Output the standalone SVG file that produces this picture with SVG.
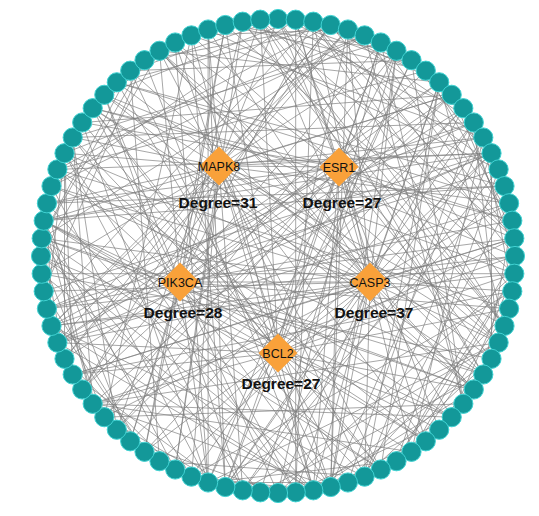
<svg xmlns="http://www.w3.org/2000/svg" width="539" height="516" viewBox="0 0 539 516">
<style>
.e{fill:none;stroke:#7c7c7c;stroke-width:0.75;stroke-opacity:0.9}
.ring circle{fill:#139899;stroke:#40d2d2;stroke-width:1}
.hub polygon{fill:#f9a13a}
.hl{font-family:"Liberation Sans",Arial,sans-serif;font-size:12.5px;fill:#111;text-anchor:middle}
.dl{font-family:"Liberation Sans",Arial,sans-serif;font-size:15.5px;font-weight:bold;fill:#111;text-anchor:middle}
</style>
<rect width="539" height="516" fill="#fff"/>
<g id="edges">
<path class="e" d="M278 19L483.3 137.5M295.7 19.7L498.6 169.4M313.3 21.7L439.2 82.3M330.7 25L57.4 169.4M347.9 29.5L330.7 487M364.6 35.4L439.2 82.3M380.8 42.5L295.7 19.7M396.5 50.8L330.7 487M411.5 60.2L208.1 482.5M425.8 70.7L82.2 389.5M439.2 82.3L380.8 469.5M451.7 94.8L92.7 403.8M463.3 108.2L144.5 451.8M473.8 122.5L225.3 487M483.3 137.5L425.8 70.7M491.5 153.2L43.7 220.7M498.6 169.4L242.7 490.3M509.1 203.3L364.6 476.6M512.3 220.7L380.8 42.5M514.3 238.3L364.6 35.4M515 256L46.9 308.7M514.3 273.7L451.7 417.2M512.3 291.3L483.3 137.5M509.1 308.7L411.5 451.8M504.5 325.9L260.3 19.7M498.6 342.6L208.1 482.5M491.5 358.8L313.3 490.3M483.3 374.5L159.5 50.8M473.8 389.5L104.3 94.8M463.3 403.8L364.6 35.4M451.7 417.2L92.7 403.8M439.2 429.7L330.7 487M411.5 451.8L483.3 137.5M396.5 461.2L295.7 492.3M380.8 469.5L41.7 238.3M364.6 476.6L491.5 153.2M347.9 482.5L208.1 482.5M330.7 487L92.7 403.8M295.7 492.3L64.5 153.2M260.3 492.3L396.5 50.8M242.7 490.3L64.5 153.2M225.3 487L191.4 35.4M208.1 482.5L51.5 186.1M191.4 476.6L41.7 238.3M175.2 469.5L92.7 403.8M159.5 461.2L242.7 490.3M130.2 441.3L43.7 220.7M116.8 429.7L175.2 469.5M92.7 403.8L515 256M82.2 389.5L330.7 25M64.5 358.8L330.7 25M57.4 342.6L313.3 490.3M51.5 325.9L514.3 273.7M46.9 308.7L64.5 153.2M43.7 291.3L491.5 153.2M41.7 273.7L514.3 273.7M41 256L330.7 487M41.7 238.3L130.2 70.7M43.7 220.7L451.7 417.2M46.9 203.3L313.3 490.3M51.5 186.1L364.6 35.4M57.4 169.4L491.5 153.2M64.5 153.2L64.5 358.8M72.7 137.5L330.7 487M82.2 122.5L208.1 482.5M92.7 108.2L483.3 374.5M116.8 82.3L509.1 203.3M130.2 70.7L330.7 487M144.5 60.2L330.7 25M159.5 50.8L439.2 82.3M175.2 42.5L330.7 487M225.3 25L396.5 50.8M242.7 21.7L504.5 325.9"/>
<path class="e" d="M278 19L425.8 70.7M313.3 21.7L512.3 291.3M330.7 25L473.8 122.5M347.9 29.5L51.5 325.9M364.6 35.4L41.7 238.3M380.8 42.5L72.7 137.5M396.5 50.8L104.3 417.2M411.5 60.2L463.3 403.8M425.8 70.7L512.3 220.7M439.2 82.3L491.5 153.2M451.7 94.8L43.7 220.7M463.3 108.2L515 256M491.5 153.2L491.5 358.8M498.6 169.4L46.9 308.7M504.5 186.1L225.3 487M512.3 220.7L483.3 374.5M514.3 238.3L451.7 94.8M515 256L330.7 25M514.3 273.7L225.3 25M512.3 291.3L72.7 374.5M509.1 308.7L57.4 169.4M504.5 325.9L313.3 21.7M498.6 342.6L92.7 403.8M491.5 358.8L116.8 82.3M483.3 374.5L278 19M473.8 389.5L159.5 50.8M463.3 403.8L104.3 417.2M451.7 417.2L57.4 169.4M425.8 441.3L491.5 358.8M411.5 451.8L43.7 220.7M396.5 461.2L498.6 169.4M380.8 469.5L41 256M364.6 476.6L159.5 461.2M330.7 487L225.3 487M313.3 490.3L191.4 476.6M295.7 492.3L313.3 21.7M278 493L514.3 273.7M242.7 490.3L498.6 342.6M225.3 487L104.3 417.2M208.1 482.5L208.1 29.5M191.4 476.6L512.3 291.3M175.2 469.5L242.7 21.7M144.5 451.8L46.9 308.7M130.2 441.3L463.3 108.2M116.8 429.7L451.7 94.8M104.3 417.2L191.4 35.4M92.7 403.8L411.5 451.8M72.7 374.5L64.5 153.2M64.5 358.8L463.3 108.2M57.4 342.6L439.2 82.3M51.5 325.9L46.9 203.3M46.9 308.7L313.3 21.7M41.7 273.7L491.5 358.8M41 256L159.5 50.8M41.7 238.3L144.5 60.2M43.7 220.7L92.7 403.8M46.9 203.3L92.7 403.8M51.5 186.1L483.3 374.5M72.7 137.5L116.8 429.7M82.2 122.5L159.5 50.8M92.7 108.2L512.3 220.7M104.3 94.8L242.7 490.3M116.8 82.3L175.2 42.5M130.2 70.7L411.5 60.2M144.5 60.2L313.3 490.3M175.2 42.5L208.1 482.5M191.4 35.4L347.9 29.5M208.1 29.5L498.6 169.4M225.3 25L425.8 70.7M242.7 21.7L498.6 342.6M260.3 19.7L483.3 374.5"/>
<path class="e" d="M278 19L504.5 325.9M295.7 19.7L295.7 492.3M313.3 21.7L425.8 70.7M330.7 25L116.8 82.3M347.9 29.5L64.5 358.8M364.6 35.4L64.5 153.2M380.8 42.5L278 493M396.5 50.8L295.7 19.7M411.5 60.2L498.6 169.4M425.8 70.7L57.4 169.4M451.7 94.8L82.2 122.5M473.8 122.5L498.6 342.6M483.3 137.5L242.7 490.3M491.5 153.2L57.4 342.6M498.6 169.4L515 256M504.5 186.1L43.7 220.7M512.3 220.7L512.3 291.3M514.3 238.3L313.3 21.7M515 256L104.3 94.8M514.3 273.7L396.5 461.2M509.1 308.7L347.9 482.5M504.5 325.9L439.2 82.3M498.6 342.6L159.5 50.8M491.5 358.8L364.6 476.6M483.3 374.5L260.3 492.3M473.8 389.5L313.3 490.3M463.3 403.8L380.8 42.5M451.7 417.2L295.7 492.3M439.2 429.7L43.7 220.7M425.8 441.3L347.9 482.5M411.5 451.8L514.3 273.7M396.5 461.2L515 256M380.8 469.5L92.7 108.2M364.6 476.6L439.2 82.3M347.9 482.5L473.8 122.5M330.7 487L483.3 137.5M313.3 490.3L51.5 325.9M295.7 492.3L439.2 82.3M278 493L130.2 441.3M260.3 492.3L41.7 238.3M225.3 487L72.7 374.5M208.1 482.5L396.5 461.2M175.2 469.5L64.5 358.8M159.5 461.2L130.2 70.7M144.5 451.8L43.7 291.3M130.2 441.3L208.1 482.5M116.8 429.7L260.3 19.7M104.3 417.2L57.4 342.6M92.7 403.8L72.7 137.5M72.7 374.5L514.3 238.3M64.5 358.8L41.7 238.3M57.4 342.6L509.1 203.3M51.5 325.9L364.6 476.6M46.9 308.7L473.8 122.5M43.7 291.3L144.5 60.2M41.7 273.7L313.3 490.3M41 256L104.3 417.2M41.7 238.3L473.8 389.5M43.7 220.7L175.2 469.5M46.9 203.3L504.5 186.1M51.5 186.1L295.7 19.7M64.5 153.2L425.8 441.3M72.7 137.5L473.8 122.5M82.2 122.5L380.8 469.5M92.7 108.2L159.5 50.8M104.3 94.8L295.7 19.7M116.8 82.3L504.5 186.1M130.2 70.7L278 19M191.4 35.4L483.3 137.5M208.1 29.5L225.3 487M225.3 25L144.5 451.8M242.7 21.7L463.3 108.2M260.3 19.7L514.3 238.3"/>
<path id="e-MAPK8" class="e" d="M219 166L330.7 25M219 166L483.3 137.5M219 166L504.5 325.9M219 166L380.8 469.5M219 166L191.4 476.6M219 166L57.4 342.6M219 166L64.5 153.2M219 166L208.1 29.5M219 166L396.5 50.8M219 166L509.1 203.3M219 166L473.8 389.5M219 166L313.3 490.3M219 166L130.2 441.3M219 166L41.7 273.7M219 166L104.3 94.8M219 166L278 19M219 166L451.7 94.8M219 166L514.3 273.7M219 166L425.8 441.3M219 166L242.7 490.3M219 166L82.2 389.5M219 166L46.9 203.3M219 166L159.5 50.8M219 166L347.9 29.5M219 166L491.5 153.2M219 166L498.6 342.6M219 166L364.6 476.6M219 166L175.2 469.5M219 166L51.5 325.9M219 166L72.7 137.5"/>
<path id="e-ESR1" class="e" d="M339 167L380.8 42.5M339 167L512.3 220.7M339 167L439.2 429.7M339 167L225.3 487M339 167L57.4 342.6M339 167L82.2 122.5M339 167L278 19M339 167L473.8 122.5M339 167L498.6 342.6M339 167L330.7 487M339 167L116.8 429.7M339 167L43.7 220.7M339 167L175.2 42.5M339 167L396.5 50.8M339 167L514.3 238.3M339 167L425.8 441.3M339 167L208.1 482.5M339 167L51.5 325.9M339 167L92.7 108.2M339 167L295.7 19.7M339 167L483.3 137.5M339 167L491.5 358.8M339 167L313.3 490.3M339 167L104.3 417.2M339 167L46.9 203.3M339 167L191.4 35.4"/>
<path id="e-PIK3CA" class="e" d="M180 282L439.2 82.3M180 282L295.7 492.3M180 282L92.7 108.2M180 282L512.3 220.7M180 282L144.5 451.8M180 282L225.3 25M180 282L483.3 374.5M180 282L51.5 325.9M180 282L380.8 42.5M180 282L364.6 476.6M180 282L57.4 169.4M180 282L491.5 153.2M180 282L208.1 482.5M180 282L159.5 50.8M180 282L509.1 308.7M180 282L82.2 389.5M180 282L313.3 21.7M180 282L425.8 441.3M180 282L41.7 238.3M180 282L451.7 94.8M180 282L278 493M180 282L104.3 94.8M180 282L514.3 238.3M180 282L130.2 441.3M180 282L242.7 21.7M180 282L473.8 389.5M180 282L46.9 308.7"/>
<path id="e-CASP3" class="e" d="M370 282L295.7 19.7M370 282L514.3 238.3M370 282L330.7 487M370 282L57.4 342.6M370 282L159.5 50.8M370 282L463.3 108.2M370 282L451.7 417.2M370 282L144.5 451.8M370 282L64.5 153.2M370 282L347.9 29.5M370 282L512.3 291.3M370 282L278 493M370 282L43.7 291.3M370 282L208.1 29.5M370 282L491.5 153.2M370 282L411.5 451.8M370 282L104.3 417.2M370 282L92.7 108.2M370 282L396.5 50.8M370 282L498.6 342.6M370 282L225.3 487M370 282L41.7 238.3M370 282L260.3 19.7M370 282L509.1 203.3M370 282L364.6 476.6M370 282L72.7 374.5M370 282L130.2 70.7M370 282L439.2 82.3M370 282L473.8 389.5M370 282L175.2 469.5M370 282L51.5 186.1M370 282L313.3 21.7M370 282L515 256M370 282L313.3 490.3M370 282L51.5 325.9M370 282L175.2 42.5"/>
<path id="e-BCL2" class="e" d="M278 353L411.5 60.2M278 353L425.8 441.3M278 353L57.4 342.6M278 353L260.3 19.7M278 353L509.1 308.7M278 353L159.5 461.2M278 353L116.8 82.3M278 353L491.5 153.2M278 353L313.3 490.3M278 353L43.7 220.7M278 353L380.8 42.5M278 353L451.7 417.2M278 353L72.7 374.5M278 353L225.3 25M278 353L514.3 273.7M278 353L191.4 476.6M278 353L92.7 108.2M278 353L473.8 122.5M278 353L347.9 482.5M278 353L41 256M278 353L347.9 29.5M278 353L473.8 389.5M278 353L92.7 403.8M278 353L191.4 35.4M278 353L514.3 238.3M278 353L225.3 487M278 353L72.7 137.5"/>
<path id="e-hubs" class="e" d="M219 166L339 167M180 282L370 282"/>
</g>
<g id="ring" class="ring">
<g id="n0"><circle cx="278" cy="19" r="9.6"/></g>
<g id="n1"><circle cx="295.7" cy="19.7" r="9.6"/></g>
<g id="n2"><circle cx="313.3" cy="21.7" r="9.6"/></g>
<g id="n3"><circle cx="330.7" cy="25" r="9.6"/></g>
<g id="n4"><circle cx="347.9" cy="29.5" r="9.6"/></g>
<g id="n5"><circle cx="364.6" cy="35.4" r="9.6"/></g>
<g id="n6"><circle cx="380.8" cy="42.5" r="9.6"/></g>
<g id="n7"><circle cx="396.5" cy="50.8" r="9.6"/></g>
<g id="n8"><circle cx="411.5" cy="60.2" r="9.6"/></g>
<g id="n9"><circle cx="425.8" cy="70.7" r="9.6"/></g>
<g id="n10"><circle cx="439.2" cy="82.3" r="9.6"/></g>
<g id="n11"><circle cx="451.7" cy="94.8" r="9.6"/></g>
<g id="n12"><circle cx="463.3" cy="108.2" r="9.6"/></g>
<g id="n13"><circle cx="473.8" cy="122.5" r="9.6"/></g>
<g id="n14"><circle cx="483.3" cy="137.5" r="9.6"/></g>
<g id="n15"><circle cx="491.5" cy="153.2" r="9.6"/></g>
<g id="n16"><circle cx="498.6" cy="169.4" r="9.6"/></g>
<g id="n17"><circle cx="504.5" cy="186.1" r="9.6"/></g>
<g id="n18"><circle cx="509.1" cy="203.3" r="9.6"/></g>
<g id="n19"><circle cx="512.3" cy="220.7" r="9.6"/></g>
<g id="n20"><circle cx="514.3" cy="238.3" r="9.6"/></g>
<g id="n21"><circle cx="515" cy="256" r="9.6"/></g>
<g id="n22"><circle cx="514.3" cy="273.7" r="9.6"/></g>
<g id="n23"><circle cx="512.3" cy="291.3" r="9.6"/></g>
<g id="n24"><circle cx="509.1" cy="308.7" r="9.6"/></g>
<g id="n25"><circle cx="504.5" cy="325.9" r="9.6"/></g>
<g id="n26"><circle cx="498.6" cy="342.6" r="9.6"/></g>
<g id="n27"><circle cx="491.5" cy="358.8" r="9.6"/></g>
<g id="n28"><circle cx="483.3" cy="374.5" r="9.6"/></g>
<g id="n29"><circle cx="473.8" cy="389.5" r="9.6"/></g>
<g id="n30"><circle cx="463.3" cy="403.8" r="9.6"/></g>
<g id="n31"><circle cx="451.7" cy="417.2" r="9.6"/></g>
<g id="n32"><circle cx="439.2" cy="429.7" r="9.6"/></g>
<g id="n33"><circle cx="425.8" cy="441.3" r="9.6"/></g>
<g id="n34"><circle cx="411.5" cy="451.8" r="9.6"/></g>
<g id="n35"><circle cx="396.5" cy="461.2" r="9.6"/></g>
<g id="n36"><circle cx="380.8" cy="469.5" r="9.6"/></g>
<g id="n37"><circle cx="364.6" cy="476.6" r="9.6"/></g>
<g id="n38"><circle cx="347.9" cy="482.5" r="9.6"/></g>
<g id="n39"><circle cx="330.7" cy="487" r="9.6"/></g>
<g id="n40"><circle cx="313.3" cy="490.3" r="9.6"/></g>
<g id="n41"><circle cx="295.7" cy="492.3" r="9.6"/></g>
<g id="n42"><circle cx="278" cy="493" r="9.6"/></g>
<g id="n43"><circle cx="260.3" cy="492.3" r="9.6"/></g>
<g id="n44"><circle cx="242.7" cy="490.3" r="9.6"/></g>
<g id="n45"><circle cx="225.3" cy="487" r="9.6"/></g>
<g id="n46"><circle cx="208.1" cy="482.5" r="9.6"/></g>
<g id="n47"><circle cx="191.4" cy="476.6" r="9.6"/></g>
<g id="n48"><circle cx="175.2" cy="469.5" r="9.6"/></g>
<g id="n49"><circle cx="159.5" cy="461.2" r="9.6"/></g>
<g id="n50"><circle cx="144.5" cy="451.8" r="9.6"/></g>
<g id="n51"><circle cx="130.2" cy="441.3" r="9.6"/></g>
<g id="n52"><circle cx="116.8" cy="429.7" r="9.6"/></g>
<g id="n53"><circle cx="104.3" cy="417.2" r="9.6"/></g>
<g id="n54"><circle cx="92.7" cy="403.8" r="9.6"/></g>
<g id="n55"><circle cx="82.2" cy="389.5" r="9.6"/></g>
<g id="n56"><circle cx="72.7" cy="374.5" r="9.6"/></g>
<g id="n57"><circle cx="64.5" cy="358.8" r="9.6"/></g>
<g id="n58"><circle cx="57.4" cy="342.6" r="9.6"/></g>
<g id="n59"><circle cx="51.5" cy="325.9" r="9.6"/></g>
<g id="n60"><circle cx="46.9" cy="308.7" r="9.6"/></g>
<g id="n61"><circle cx="43.7" cy="291.3" r="9.6"/></g>
<g id="n62"><circle cx="41.7" cy="273.7" r="9.6"/></g>
<g id="n63"><circle cx="41" cy="256" r="9.6"/></g>
<g id="n64"><circle cx="41.7" cy="238.3" r="9.6"/></g>
<g id="n65"><circle cx="43.7" cy="220.7" r="9.6"/></g>
<g id="n66"><circle cx="46.9" cy="203.3" r="9.6"/></g>
<g id="n67"><circle cx="51.5" cy="186.1" r="9.6"/></g>
<g id="n68"><circle cx="57.4" cy="169.4" r="9.6"/></g>
<g id="n69"><circle cx="64.5" cy="153.2" r="9.6"/></g>
<g id="n70"><circle cx="72.7" cy="137.5" r="9.6"/></g>
<g id="n71"><circle cx="82.2" cy="122.5" r="9.6"/></g>
<g id="n72"><circle cx="92.7" cy="108.2" r="9.6"/></g>
<g id="n73"><circle cx="104.3" cy="94.8" r="9.6"/></g>
<g id="n74"><circle cx="116.8" cy="82.3" r="9.6"/></g>
<g id="n75"><circle cx="130.2" cy="70.7" r="9.6"/></g>
<g id="n76"><circle cx="144.5" cy="60.2" r="9.6"/></g>
<g id="n77"><circle cx="159.5" cy="50.8" r="9.6"/></g>
<g id="n78"><circle cx="175.2" cy="42.5" r="9.6"/></g>
<g id="n79"><circle cx="191.4" cy="35.4" r="9.6"/></g>
<g id="n80"><circle cx="208.1" cy="29.5" r="9.6"/></g>
<g id="n81"><circle cx="225.3" cy="25" r="9.6"/></g>
<g id="n82"><circle cx="242.7" cy="21.7" r="9.6"/></g>
<g id="n83"><circle cx="260.3" cy="19.7" r="9.6"/></g>
</g>
<g id="MAPK8" class="hub"><polygon points="219,146.5 238.5,166 219,185.5 199.5,166"/><text class="hl" x="219" y="170.5">MAPK8</text><text class="dl" x="218" y="207.5">Degree=31</text></g>
<g id="ESR1" class="hub"><polygon points="339,147.5 358.5,167 339,186.5 319.5,167"/><text class="hl" x="339" y="171.5">ESR1</text><text class="dl" x="342" y="207.5">Degree=27</text></g>
<g id="PIK3CA" class="hub"><polygon points="180,262.5 199.5,282 180,301.5 160.5,282"/><text class="hl" x="180" y="286.5">PIK3CA</text><text class="dl" x="183" y="317.7">Degree=28</text></g>
<g id="CASP3" class="hub"><polygon points="370,262.5 389.5,282 370,301.5 350.5,282"/><text class="hl" x="370" y="286.5">CASP3</text><text class="dl" x="374" y="317.7">Degree=37</text></g>
<g id="BCL2" class="hub"><polygon points="278,333.5 297.5,353 278,372.5 258.5,353"/><text class="hl" x="278" y="357.5">BCL2</text><text class="dl" x="281" y="389">Degree=27</text></g>
</svg>
